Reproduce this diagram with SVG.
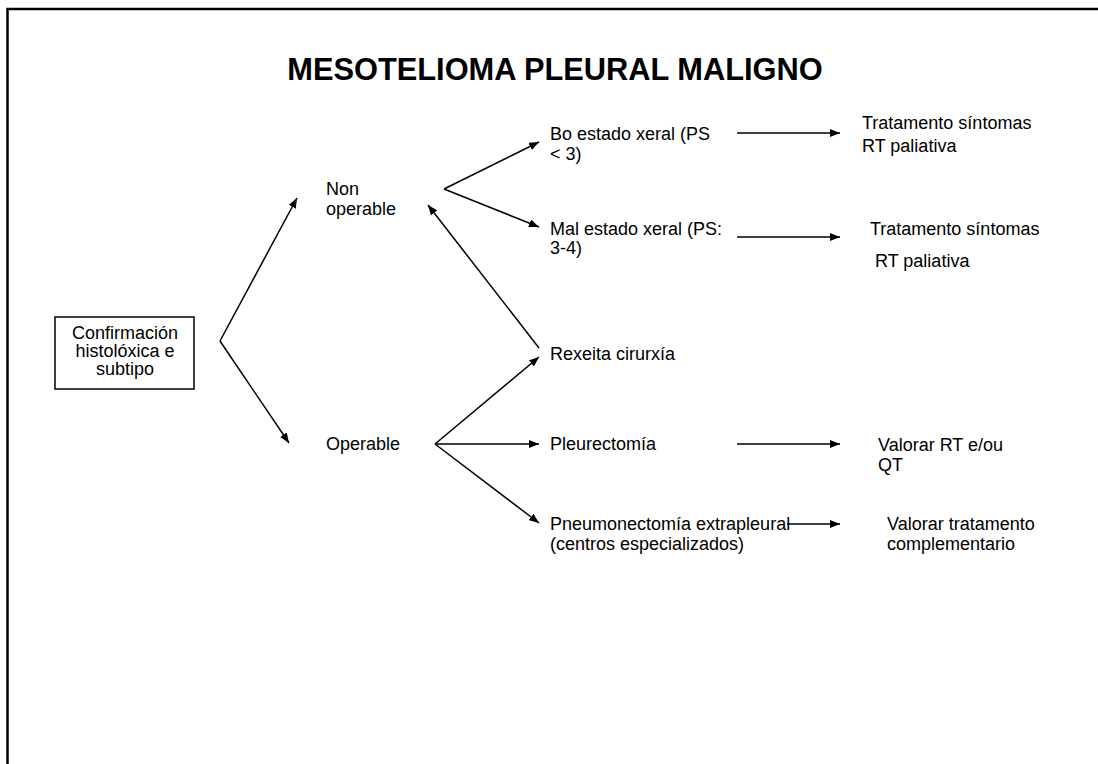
<svg xmlns="http://www.w3.org/2000/svg" width="1098" height="764" viewBox="0 0 1098 764">
<style>
text{font-family:"Liberation Sans",Arial,sans-serif;font-size:18px;fill:#000}
.title{font-size:30.8px;font-weight:bold}
.c{stroke:#000;stroke-width:1.5;fill:none}
</style>
<defs>
<marker id="ah" viewBox="0 0 10 8" refX="10" refY="4" markerWidth="10" markerHeight="8" markerUnits="userSpaceOnUse" orient="auto">
<path d="M0,0 L10,4 L0,8 Z" fill="#000"/>
</marker>
</defs>
<rect width="1098" height="764" fill="#fff"/>
<path d="M7.5,764 V9 H1098" fill="none" stroke="#000" stroke-width="2.5"/>
<text class="title" x="555" y="80" text-anchor="middle">MESOTELIOMA PLEURAL MALIGNO</text>

<g id="connectors">
<path class="c" d="M220,341 L297,198" marker-end="url(#ah)"/>
<path class="c" d="M220,341 L289,443" marker-end="url(#ah)"/>
<path class="c" d="M444,189 L539,142" marker-end="url(#ah)"/>
<path class="c" d="M444,189 L539,227" marker-end="url(#ah)"/>
<path class="c" d="M539,348 L428,205" marker-end="url(#ah)"/>
<path class="c" d="M435,444 L539,357" marker-end="url(#ah)"/>
<path class="c" d="M435,444 L539,444" marker-end="url(#ah)"/>
<path class="c" d="M435,444 L539,523" marker-end="url(#ah)"/>
<path class="c" d="M737,133 L840,133" marker-end="url(#ah)"/>
<path class="c" d="M737,237 L840,237" marker-end="url(#ah)"/>
<path class="c" d="M737,444 L840,444" marker-end="url(#ah)"/>
<path class="c" d="M787,524 L840,524" marker-end="url(#ah)"/>
</g>

<g id="n-confirmacion">
<rect x="55" y="317" width="139" height="72" fill="#fff" stroke="#000" stroke-width="1.5"/>
<text x="125" y="339" text-anchor="middle">Confirmación</text>
<text x="125" y="357" text-anchor="middle">histolóxica e</text>
<text x="125" y="375" text-anchor="middle">subtipo</text>
</g>
<g id="n-nonoperable">
<text x="326" y="195">Non</text>
<text x="326" y="215">operable</text>
</g>
<g id="n-operable">
<text x="326" y="450">Operable</text>
</g>
<g id="n-bo">
<text x="550" y="140">Bo estado xeral (PS</text>
<text x="550" y="160">&lt; 3)</text>
</g>
<g id="n-mal">
<text x="550" y="235">Mal estado xeral (PS:</text>
<text x="550" y="254">3-4)</text>
</g>
<g id="n-rexeita">
<text x="550" y="360">Rexeita cirurxía</text>
</g>
<g id="n-pleurectomia">
<text x="550" y="450">Pleurectomía</text>
</g>
<g id="n-pneumonectomia">
<text x="550" y="530">Pneumonectomía extrapleural</text>
<text x="550" y="550">(centros especializados)</text>
</g>
<g id="n-trat1">
<text x="862" y="129">Tratamento síntomas</text>
<text x="862" y="152">RT paliativa</text>
</g>
<g id="n-trat2">
<text x="870" y="235">Tratamento síntomas</text>
<text x="875" y="267">RT paliativa</text>
</g>
<g id="n-valorar1">
<text x="878" y="451">Valorar RT e/ou</text>
<text x="878" y="471">QT</text>
</g>
<g id="n-valorar2">
<text x="887" y="530">Valorar tratamento</text>
<text x="887" y="550">complementario</text>
</g>
</svg>
